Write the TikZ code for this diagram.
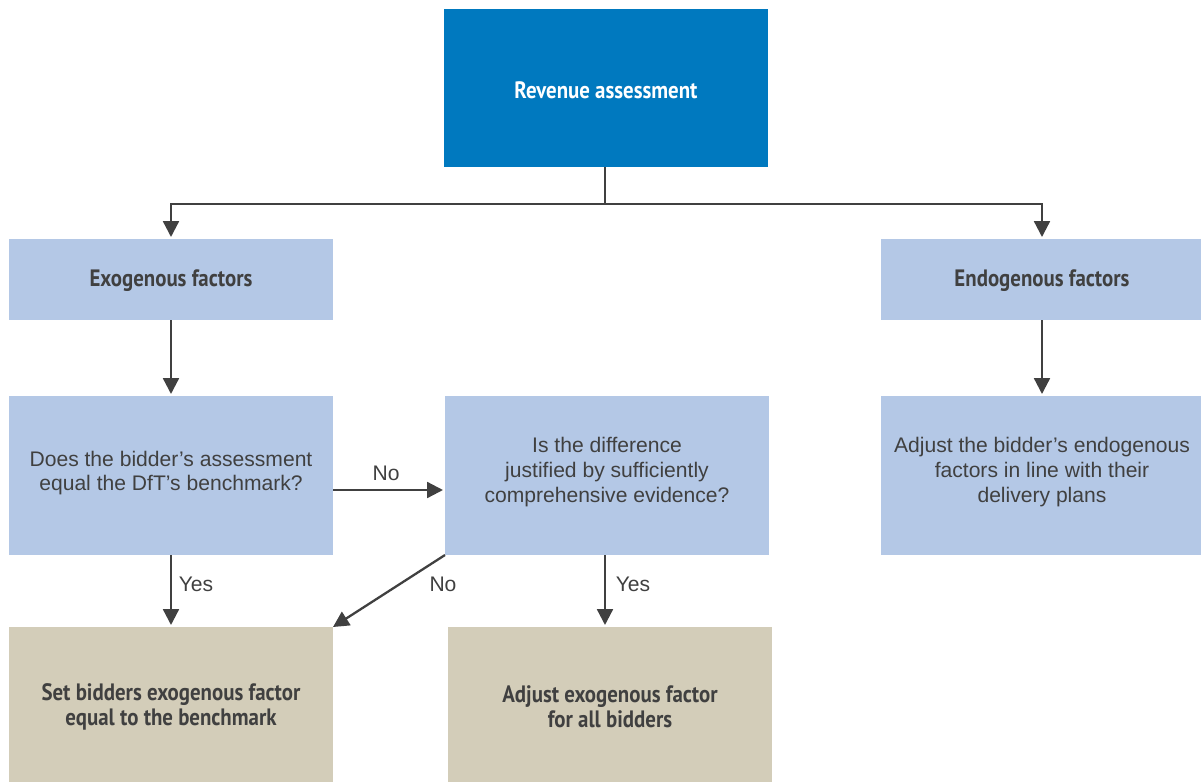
\documentclass[tikz,border=0pt]{standalone}
\usepackage{fontspec}
\setmainfont{Liberation Sans}
\newfontfamily\condbold[FakeStretch=0.88]{PT Sans Bold}
\usetikzlibrary{arrows.meta,positioning}
\definecolor{darkblue}{HTML}{0079BF}
\definecolor{lightblue}{HTML}{B4C8E6}
\definecolor{tan}{HTML}{D3CDB9}
\definecolor{txt}{HTML}{404040}
\begin{document}
\begin{tikzpicture}[x=0.02cm,y=-0.02cm,
  box/.style={draw=none,inner sep=0pt,text=txt,align=center,font=\fontsize{12}{14}\selectfont},
  title/.style={box,font=\condbold\fontsize{13.5}{14}\selectfont},
  arr/.style={draw=txt,line width=1.3pt,-{Triangle[length=9pt,width=9pt]}},
  lbl/.style={text=txt,font=\fontsize{12}{14}\selectfont,inner sep=0pt}]
\useasboundingbox (0,0) rectangle (1201,782);
% boxes
\fill[darkblue] (444,9) rectangle (768,167);
\node[title,text=white] (rev) at (606,90) {Revenue assessment};
\fill[lightblue] (9,239) rectangle (333,320);
\node[title] (exo) at (171,281) {Exogenous factors};
\fill[lightblue] (881,239) rectangle (1201,320);
\node[title] (endo) at (1042,281) {Endogenous factors};
\fill[lightblue] (9,396) rectangle (333,555);
\node[box] (does) at (171,473) {Does the bidder’s assessment\\equal the DfT’s benchmark?};
\fill[lightblue] (445,396) rectangle (769,555);
\node[box] (is) at (607,472) {Is the difference\\justified by sufficiently\\comprehensive evidence?};
\fill[lightblue] (881,396) rectangle (1201,555);
\node[box] (adj) at (1042,472) {Adjust the bidder’s endogenous\\factors in line with their\\delivery plans};
\fill[tan] (9,627) rectangle (333,782);
\node[title] (set) at (171,707) {Set bidders exogenous factor\\equal to the benchmark};
\fill[tan] (448,627) rectangle (772,782);
\node[title] (adjexo) at (610,707) {Adjust exogenous factor\\for all bidders};
% coordinates
\coordinate (revb) at (605,167);
\coordinate (split) at (605,204);
\coordinate (exot) at (171,237);
\coordinate (endot) at (1042,237);
\coordinate (exob) at (171,320);
\coordinate (doest) at (171,394);
\coordinate (endob) at (1042,320);
\coordinate (adjt) at (1042,394);
\coordinate (doesr) at (333,490);
\coordinate (isl) at (443,490);
\coordinate (doesb) at (171,555);
\coordinate (sett) at (171,625);
\coordinate (isb) at (605,555);
\coordinate (adjexot) at (605,625);
\coordinate (isbl) at (445,555);
\coordinate (settr) at (333,627);
% connectors
\draw[draw=txt,line width=1.3pt] (revb) -- (split);
\draw[arr] (split) -| (exot);
\draw[arr] (split) -| (endot);
\draw[arr] (exob) -- (doest);
\draw[arr] (endob) -- (adjt);
\draw[arr] (doesr) -- (isl);
\draw[arr] (doesb) -- (sett);
\draw[arr] (isb) -- (adjexot);
\draw[arr] (isbl) -- (settr);
\node[lbl] (no1) at (386,473) {No};
\node[lbl] (yes1) at (196,584) {Yes};
\node[lbl] (yes2) at (633,584) {Yes};
\node[lbl] (no2) at (443,584) {No};
\end{tikzpicture}
\end{document}
